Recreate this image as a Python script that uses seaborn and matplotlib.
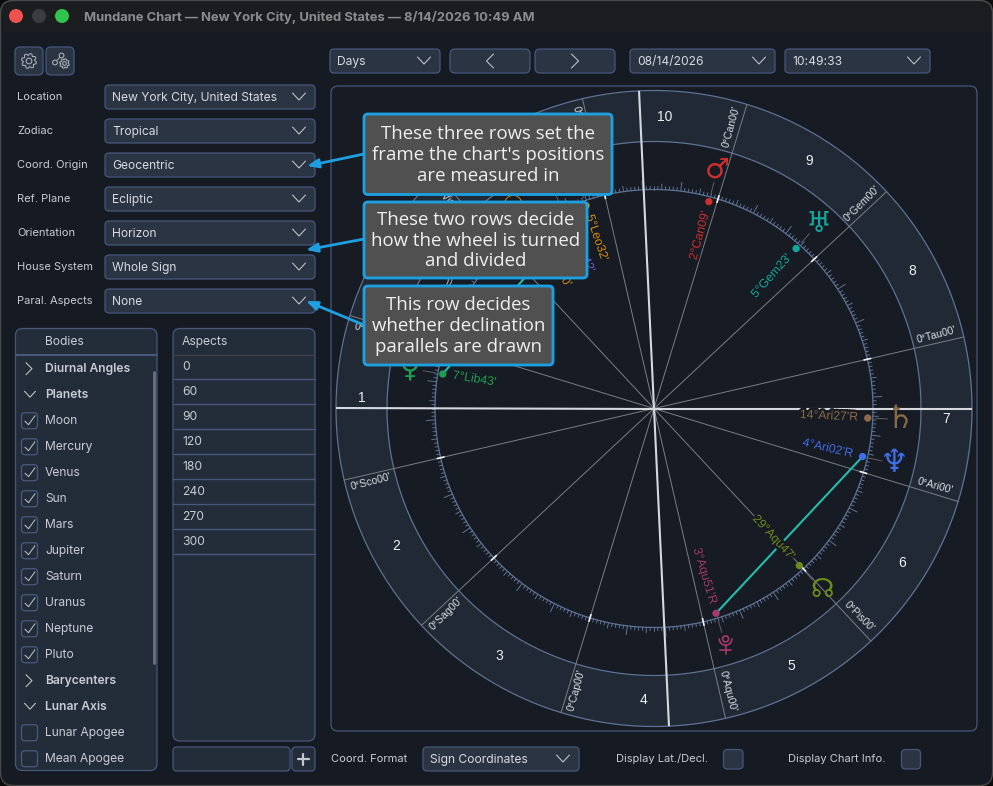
import numpy as np
import pandas as pd
import matplotlib
matplotlib.use("Agg")
import matplotlib.pyplot as plt
import matplotlib.patheffects as pe
from matplotlib.patches import FancyBboxPatch, Circle, Rectangle, Arc, Polygon
import seaborn as sns

# ---------- data ----------
title = "Mundane Chart — New York City, United States — 8/14/2026 10:49 AM"
setting_labels = ["Location", "Zodiac", "Coord. Origin", "Ref. Plane", "Orientation", "House System", "Paral. Aspects"]
setting_values = ["New York City, United States", "Tropical", "Geocentric", "Ecliptic", "Horizon", "Whole Sign", "None"]
body_rows = ["Diurnal Angles", "Planets", "Moon", "Mercury", "Venus", "Sun", "Mars", "Jupiter", "Saturn",
             "Uranus", "Neptune", "Pluto", "Barycenters", "Lunar Axis", "Lunar Apogee", "Mean Apogee"]
body_kinds = ["closed", "open", "on", "on", "on", "on", "on", "on", "on", "on", "on", "on", "closed", "open", "off", "off"]
aspect_rows = ["0", "60", "90", "120", "180", "240", "270", "300"]
callouts = ["These three rows set the\nframe the chart's positions\nare measured in",
            "These two rows decide\nhow the wheel is turned\nand divided",
            "This row decides\nwhether declination\nparallels are drawn"]

sign_names = ["Ari", "Tau", "Gem", "Can", "Leo", "Vir", "Lib", "Sco", "Sag", "Cap", "Aqu", "Pis"]
sign_longitudes = [0, 30, 60, 90, 120, 150, 180, 210, 240, 270, 300, 330]
# houses 11 and 12 lie under the callouts in the reference, so they stay blank
house_numbers = ["7", "8", "9", "10", "", "", "1", "2", "3", "4", "5", "6"]

planet_names = ["Mars", "Uranus", "Saturn", "Neptune", "Node", "Pluto", "Venus", "Sun", "Mercury", "Moon", "Jupiter"]
planet_longitudes = [92.15, 65.38, 14.45, 4.03, 329.78, 303.85, 187.72, 141.83, 125.53, 131.7, 166.0]
planet_labels = ["2°Can09'", "5°Gem23'", "14°Ari27'R", "4°Ari02'R", "29°Aqu47'", "3°Aqu51'R", "7°Lib43'",
                 "21°Leo50'", "5°Leo32'", "11°Leo42'", ""]
planet_glyphs = ["♂", "♅", "♄", "♆", "☊", "", "♀", "☉", "", "", "☽"]
planet_colors = ["#cf2e2e", "#14a79b", "#8a6a48", "#3f6ee6", "#6e8c1c", "#a5386c", "#1f9d50",
                 "#d58c10", "#d58c10", "#7658dc", "#b9bdc5"]
glyph_sizes = dict(zip(planet_names, [20, 21, 23, 23, 19, 18, 20, 18, 18, 18, 18]))
mc_longitude = 109.7
ac_longitude = 197.0
aspect_from = ["Neptune", "Venus"]
aspect_to = ["Pluto", "Mercury"]

# ---------- palette ----------
BG, TITLEBAR, FILL, BORDER = "#161a22", "#1c1d20", "#2a3442", "#45567a"
PANEL, TXT, DIM, RING, CIRC = "#232d3a", "#d6dae0", "#c8ccd2", "#212a34", "#5d7296"
ARROW, CALLFILL, CALLTXT = "#1d9fe0", "#505050", "#efefef"
TILT, CX, CY = -17.0, 654.0, 408.5
PX = 0.72
DY = 0.7

sns.set_theme(style="dark", rc={"axes.facecolor": "none", "figure.facecolor": "#0c0c0d"})
plt.rcParams["font.family"] = ["Inter", "DejaVu Sans"]

fig = plt.figure(figsize=(9.93, 7.86), dpi=100)


def pixel_axes(z):
    a = fig.add_axes([0, 0, 1, 1], zorder=z)
    a.set_xlim(0, 993)
    a.set_ylim(786, 0)
    a.set_axis_off()
    return a


ui = pixel_axes(0)
top = pixel_axes(5)


def box(a, x0, y0, x1, y1, fc=FILL, ec=BORDER, r=4, lw=1.0, z=2):
    p = FancyBboxPatch((x0, y0), x1 - x0, y1 - y0, boxstyle=f"round,pad=0,rounding_size={r}",
                       fc=fc, ec=ec, lw=lw * PX * 1.3, zorder=z)
    a.add_patch(p)
    return p


def chevron(a, x, y, w=6.5, h=3.5, down=True, right=True, color="#c4c8ce", lw=0.75):
    if down:
        a.plot([x - w, x, x + w], [y - h, y + h, y - h], color=color, lw=lw, zorder=4)
    else:
        s = 1 if right else -1
        a.plot([x - s * h, x + s * h, x - s * h], [y - w, y, y + w], color=color, lw=lw, zorder=4)


def gear(x, y, R, color="#aeb3ba"):
    ang = np.radians(np.arange(0, 360, 15) + 7.5)
    rad = np.where(np.arange(24) % 3 == 2, R * 0.74, R)
    ui.add_patch(Polygon(np.c_[x + rad * np.cos(ang), y + rad * np.sin(ang)], closed=True, fc="none", ec=color, lw=0.75, zorder=4))
    ui.add_patch(Circle((x, y), R * 0.38, fc="none", ec=color, lw=0.75, zorder=4))


def label(a, x, y, s, size=8.7, color=DIM, **kw):
    a.text(x, y + DY, s, color=color, fontsize=size, va="center", ha="left", zorder=4, **kw)


def dropdown(x0, x1, yc, text, h=24, size=8.7):
    box(ui, x0, yc - h / 2, x1, yc + h / 2)
    label(ui, x0 + 7, yc + 0.3, text, size=size, color=TXT)
    chevron(ui, x1 - 16, yc - 0.5)


# window
box(ui, 0.5, 0.5, 992.5, 785.5, fc=BG, ec="#4a4a4c", r=13, z=1)
tb = box(ui, 0.5, 0.5, 992.5, 785.5, fc=TITLEBAR, ec="#4a4a4c", r=13, z=1.1)
tb.set_clip_path(Rectangle((0, 0), 993, 32, transform=ui.transData))
for x, c in zip([16, 39, 62], ["#ee5350", "#3c3c3e", "#2ec44e"]):
    ui.add_patch(Circle((x, 16), 7, fc=c, ec="none", zorder=3))
ui.text(84, 16.5 + DY, title, color="#8c8c8e", fontsize=9.35, fontweight="bold", va="center", ha="left", zorder=3)

# icon buttons
box(ui, 15, 47, 43, 75, r=5)
box(ui, 46, 47, 74, 75, r=5)
gear(29, 61, 7.5)
gear(64.5, 63.5, 4.8)
ui.plot([55, 61.5], [62, 56], color="#aeb3ba", lw=0.7, zorder=4)
for x, y in [(55, 62.5), (61.5, 55.5)]:
    ui.add_patch(Circle((x, y), 2.4, fc=FILL, ec="#aeb3ba", lw=0.75, zorder=5))

# settings rows
for i, (lab, val) in enumerate(zip(setting_labels, setting_values)):
    y = 97 + 34 * i
    label(ui, 17, y - 1, lab, size=8.0)
    dropdown(105, 315, y, val)

# top bar
dropdown(330, 440, 61, "Days")
box(ui, 450, 49, 530, 73, r=5)
box(ui, 535, 49, 615, 73, r=5)
chevron(ui, 490, 61, w=7, h=3.5, down=False, right=False)
chevron(ui, 575, 61, w=7, h=3.5, down=False, right=True)
dropdown(630, 775, 61, "08/14/2026")
dropdown(785, 930, 61, "10:49:33")

# chart panel
box(ui, 331, 86, 977, 731, fc="#171b23", ec=BORDER, r=7)

# bodies panel
box(ui, 15.5, 328.5, 157, 770.5, fc=PANEL, r=7)
ui.plot([15.5, 157], [354.5, 354.5], color="#46587c", lw=1.5, zorder=4)
label(ui, 45, 341, "Bodies")
ui.plot([154, 154], [372, 663], color="#6d7279", lw=2, zorder=4, solid_capstyle="round")
for i, (lab, kind) in enumerate(zip(body_rows, body_kinds)):
    y = 368.7 + 26 * i
    bold = kind in ("closed", "open")
    label(ui, 45, y, lab, fontweight="semibold" if bold else "normal")
    if kind == "closed":
        chevron(ui, 29, y, w=6, h=3, down=False, right=True)
    elif kind == "open":
        chevron(ui, 30, y - 0.5, w=5.5, h=3)
    else:
        box(ui, 21.5, y - 8, 37.5, y + 8, fc=PANEL, ec="#46587c", r=3, z=4)
        if kind == "on":
            ui.plot([25, 28.5, 35], [y + 0.5, y + 4, y - 5], color="#c4c8ce", lw=0.7, zorder=5)

# aspects panel
box(ui, 173, 328.5, 315, 741, fc=PANEL, r=7)
label(ui, 182, 341, "Aspects")
ui.plot([173, 315], [354.5, 354.5], color="#3d3f44", lw=1, zorder=4)
for i, lab in enumerate(aspect_rows):
    y = 366.7 + 25 * i
    label(ui, 182, y, lab)
    ui.plot([173, 315], [y + 12.7, y + 12.7], color="#46587c", lw=1, zorder=4)
box(ui, 173, 747, 290, 771, fc=PANEL, r=4)
box(ui, 292, 747, 315, 771, fc=PANEL, r=4)
ui.plot([303, 303], [753.5, 765], color="#c3c7cd", lw=1.6, zorder=4)
ui.plot([297.5, 309], [759, 759], color="#c3c7cd", lw=1.6, zorder=4)

# bottom row
label(ui, 331, 758.5, "Coord. Format", size=8.0)
dropdown(423, 579, 759, "Sign Coordinates")
label(ui, 616, 758.5, "Display Lat./Decl.", size=8.0)
box(ui, 723.5, 749.5, 743, 769, r=4)
label(ui, 788, 758.5, "Display Chart Info.", size=8.0)
box(ui, 901.5, 749.5, 920.5, 769, r=4)

# ---------- wheel (polar axes, theta = ecliptic longitude) ----------
RMAX = 325.0
wheel = fig.add_axes([(CX - RMAX) / 993, (786 - CY - RMAX) / 786, 2 * RMAX / 993, 2 * RMAX / 786],
                     projection="polar", zorder=1)
wheel.patch.set_alpha(0)
wheel.set_theta_offset(np.radians(TILT))
R_OUT, R_IN, R_TICK, R_DOT, R_GLYPH, R_LABEL = 318, 267, 219, 214, 247, 204
full = np.linspace(0, 2 * np.pi, 720)
wheel.fill_between(full, R_IN, R_OUT, color=RING, lw=0, zorder=1)
for r in (R_OUT, R_IN, R_TICK):
    wheel.plot(full, np.full_like(full, r), color=CIRC, lw=0.9, zorder=2)

# scale ticks
for d in range(360):
    if d % 30 == 0:
        continue
    ln = 9 if d % 10 == 0 else 5.5 if d % 5 == 0 else 3.2
    wheel.plot([np.radians(d)] * 2, [R_TICK, R_TICK + ln], color="#5f7496", lw=0.7, zorder=2)

# sign lines, boundary ticks, sign labels, house numbers
for s, lon, h in zip(sign_names, sign_longitudes, house_numbers):
    t = np.radians(lon)
    wheel.plot([t, t], [0, R_OUT], color="#7a7e84", lw=0.7, zorder=3)
    wheel.plot([t, t], [R_TICK - 4, R_TICK + 4], color="#f4f4f4", lw=1.2, zorder=4, solid_capstyle="butt")
    sc = (lon + TILT + 1.6) % 360
    rot = sc - 180 if 90 < sc < 270 else sc
    wheel.text(np.radians(lon + 1.6), 292, f"0°{s}00'", color="#d8dce2", fontsize=7.6, family="Liberation Sans",
               rotation=rot, rotation_mode="anchor", ha="center", va="center", zorder=5)
    if h:
        wheel.text(np.radians(lon + 15), 292, h, color="#eceef1", fontsize=10, family="Liberation Sans",
                   ha="center", va="center", zorder=5)

# angles
for lon in (ac_longitude, mc_longitude):
    t = np.radians(lon)
    for tt in (t, t + np.pi):
        wheel.plot([tt, tt], [0, R_OUT], color="#d5d8dd", lw=1.5, zorder=3.5, solid_capstyle="butt")

# aspects
lon_of = dict(zip(planet_names, planet_longitudes))
rows = []
for k, (a, b) in enumerate(zip(aspect_from, aspect_to)):
    rows += [dict(pair=k, th=np.radians(lon_of[a]), r=R_DOT), dict(pair=k, th=np.radians(lon_of[b]), r=R_DOT)]
sns.lineplot(data=pd.DataFrame(rows), x="th", y="r", units="pair", estimator=None, sort=False,
             color="#25bcae", lw=1.5, ax=wheel, zorder=4, legend=False)

# bodies
df = pd.DataFrame(dict(name=planet_names, th=np.radians(planet_longitudes), r=float(R_DOT)))
sns.scatterplot(data=df, x="th", y="r", hue="name", palette=dict(zip(planet_names, planet_colors)),
                s=28, edgecolor="none", legend=False, ax=wheel, zorder=7)
for name, lon, lab, g, c in zip(planet_names, planet_longitudes, planet_labels, planet_glyphs, planet_colors):
    t = np.radians(lon)
    sc = (lon + TILT) % 360
    left = 90 < sc < 270
    rot = sc - 180 if left else sc
    wheel.plot([t, t], [R_TICK + 3, R_GLYPH - 13], color="#5c6068", lw=0.7, zorder=3)
    if lab:
        wheel.text(t, R_LABEL, lab, color=c, fontsize=8.8, family="Liberation Sans", rotation=rot,
                   rotation_mode="anchor", ha="left" if left else "right", va="center", zorder=6,
                   path_effects=[pe.withStroke(linewidth=3.5, foreground="#171b23")])
    if g:
        wheel.text(t, R_GLYPH, g, color=c, fontsize=glyph_sizes[name], family="DejaVu Sans", ha="center",
                   va="center", zorder=6)

wheel.set_rlim(0, RMAX)
wheel.set_axis_off()

# Pluto glyph drawn as strokes, placed from its longitude
pl = np.radians(lon_of["Pluto"] + TILT)
px, py = CX + R_GLYPH * np.cos(pl), CY - R_GLYPH * np.sin(pl)
PC = planet_colors[planet_names.index("Pluto")]
top.add_patch(Circle((px, py - 6), 3.0, fc="none", ec=PC, lw=1.2, zorder=1))
top.add_patch(Arc((px, py - 6), 12.5, 12.5, theta1=-5, theta2=185, ec=PC, lw=1.2, zorder=1))
top.plot([px, px], [py + 0.5, py + 9.5], color=PC, lw=1.2, zorder=1)
top.plot([px - 5.5, px + 5.5], [py + 5.5, py + 5.5], color=PC, lw=1.2, zorder=1)

# ---------- callouts ----------
call_boxes = [(364, 114, 612, 194.5), (364, 202, 587, 278), (364, 286, 553, 365)]
arrow_ends = [((364, 154), (307, 166)), ((364, 239), (306, 250)), ((364, 325), (306, 301))]
for (x0, y0, x1, y1), txt, (a, b) in zip(call_boxes, callouts, arrow_ends):
    top.annotate("", xy=b, xytext=a, xycoords="data", textcoords="data", zorder=8,
                 arrowprops=dict(arrowstyle="-|>,head_length=0.55,head_width=0.22", color=ARROW, lw=2.0,
                                 shrinkA=0, shrinkB=0))
    box(top, x0, y0, x1, y1, fc=CALLFILL, ec=ARROW, r=4, lw=2.2, z=9)
    top.text((x0 + x1) / 2, (y0 + y1) / 2 + 0.5, txt, color=CALLTXT, fontsize=13.45, family="Open Sans", ha="center",
             va="center", linespacing=1.205, zorder=10)

fig.savefig("out.png", dpi=100, facecolor=fig.get_facecolor())
